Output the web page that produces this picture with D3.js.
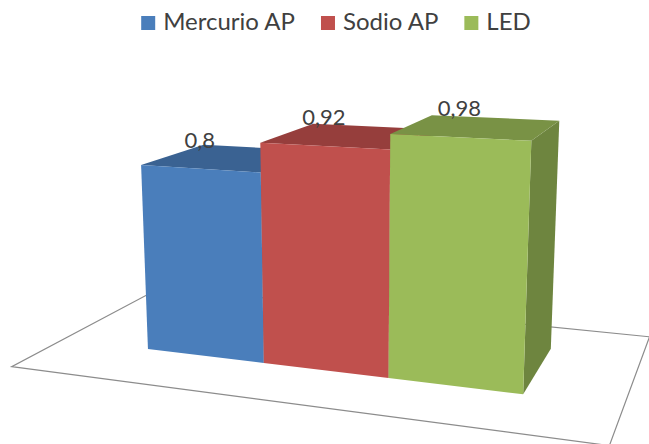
<!DOCTYPE html>
<html>
<head>
<meta charset="utf-8">
<script src="https://cdn.jsdelivr.net/npm/d3@7"></script>
<style>
  html, body { margin: 0; padding: 0; background: #ffffff; }
  svg { display: block; }
</style>
</head>
<body>
<script>
// ---- data ----
const categories = ["Mercurio AP", "Sodio AP", "LED"];
const values = [0.8, 0.92, 0.98];
const colors = ["#4a7ebb", "#c0504d", "#9bbb59"];

const W = 649, H = 444;
const svg = d3.select("body").append("svg").attr("width", W).attr("height", H);

// ---- 3D scene (world units): x along categories, y up, z away from viewer ----
const x = d3.scaleBand().domain(categories).range([0, 2.96]).paddingInner(0).paddingOuter(0);
const y = d3.scaleLinear().domain([0, 1]).range([0, 1.8245]);
const depth = 1.07;
const floorX = [-0.76, 3.65], floorZ = [-0.72, 1.64];

// ---- perspective camera ----
const deg = Math.PI / 180;
const yaw = 20.56 * deg, pitch = -12.37 * deg, roll = 0.25 * deg;
const camT = [-1.39, -0.994, 9.52];
const focal = 1216, cx = 325.5, cy = 222;

function project([px, py, pz]) {
  const x1 = px * Math.cos(yaw) + pz * Math.sin(yaw);
  const z1 = -px * Math.sin(yaw) + pz * Math.cos(yaw);
  const y1 = py;
  const y2 = y1 * Math.cos(pitch) - z1 * Math.sin(pitch);
  const z2 = y1 * Math.sin(pitch) + z1 * Math.cos(pitch);
  const x3 = x1 * Math.cos(roll) - y2 * Math.sin(roll);
  const y3 = x1 * Math.sin(roll) + y2 * Math.cos(roll);
  const X = x3 + camT[0], Y = y3 + camT[1], Z = z2 + camT[2];
  return [cx + focal * X / Z, cy - focal * Y / Z];
}
const poly = pts => "M" + pts.map(p => project(p).map(v => v.toFixed(2)).join(",")).join("L") + "Z";

// ---- floor outline ----
svg.append("path")
  .attr("d", poly([
    [floorX[0], 0, floorZ[0]], [floorX[1], 0, floorZ[0]],
    [floorX[1], 0, floorZ[1]], [floorX[0], 0, floorZ[1]]
  ]))
  .attr("fill", "none")
  .attr("stroke", "#8c8c8c")
  .attr("stroke-width", 1.2);

// ---- bars ----
const shade = (c, k) => { const o = d3.rgb(c); return d3.rgb(o.r * k, o.g * k, o.b * k).formatHex(); };
const bars = categories.map((cat, i) => ({ cat, value: values[i], color: colors[i] }));

const g = svg.append("g");
bars.forEach(b => {
  const x0 = x(b.cat), x1 = x0 + x.bandwidth(), h = y(b.value), d = depth;
  const bg = g.append("g");
  bg.append("path")  // right side
    .attr("d", poly([[x1, 0, 0], [x1, 0, d], [x1, h, d], [x1, h, 0]]))
    .attr("fill", shade(b.color, 0.71));
  bg.append("path")  // top
    .attr("d", poly([[x0, h, 0], [x1, h, 0], [x1, h, d], [x0, h, d]]))
    .attr("fill", shade(b.color, 0.78));
  bg.append("path")  // front
    .attr("d", poly([[x0, 0, 0], [x1, 0, 0], [x1, h, 0], [x0, h, 0]]))
    .attr("fill", b.color);
});

// ---- data labels ----
const fmt = d3.formatLocale({ decimal: ",", thousands: ".", grouping: [3], currency: ["", ""] }).format(".2~f");
svg.append("g").selectAll("text")
  .data(bars)
  .join("text")
  .attr("x", b => project([x(b.cat) + x.bandwidth() / 2, y(b.value), 0])[0])
  .attr("y", b => project([x(b.cat) + x.bandwidth() / 2, y(b.value), 0])[1] - 21)
  .attr("text-anchor", "middle")
  .attr("font-family", "Lato, 'Open Sans', sans-serif")
  .attr("font-size", 22)
  .attr("fill", "#404040")
  .text(b => fmt(b.value));

// ---- legend ----
const legend = svg.append("g");
const sw = 14, gapText = 8, gapItem = 26;
let lx = 0;
bars.forEach(b => {
  const it = legend.append("g").attr("transform", `translate(${lx},0)`);
  it.append("rect").attr("x", 0).attr("y", -14).attr("width", sw).attr("height", sw).attr("fill", b.color);
  const t = it.append("text")
    .attr("x", sw + gapText).attr("y", 0)
    .attr("font-family", "Lato, 'Open Sans', sans-serif")
    .attr("font-size", 24)
    .attr("fill", "#404040")
    .text(b.cat);
  lx += sw + gapText + t.node().getComputedTextLength() + gapItem;
});
const legendW = lx - gapItem;
legend.attr("transform", `translate(${(336 - legendW / 2).toFixed(1)},30)`);
</script>
</body>
</html>
